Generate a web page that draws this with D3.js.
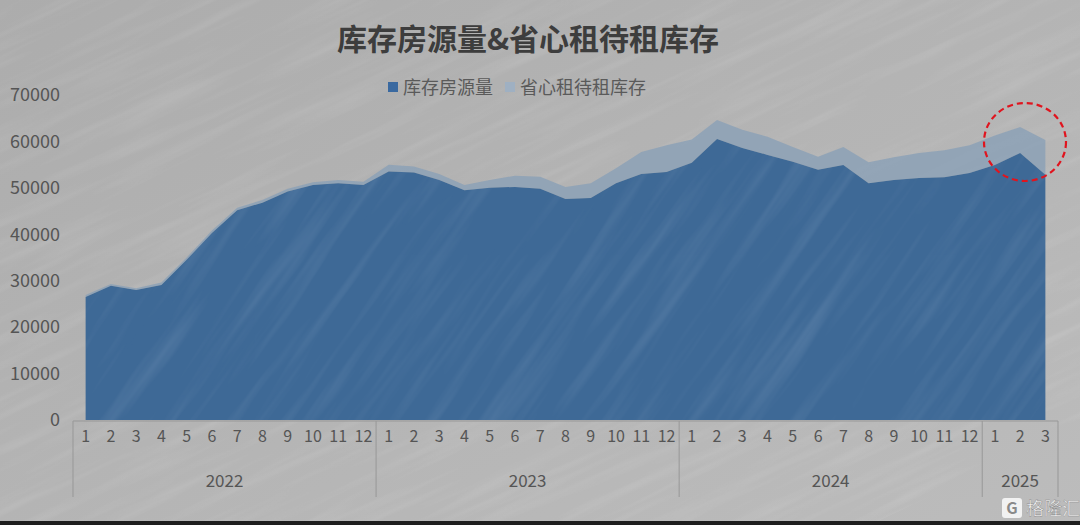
<!DOCTYPE html>
<html><head><meta charset="utf-8">
<script src="https://cdn.jsdelivr.net/npm/d3@7/dist/d3.min.js"></script>
<style>
html,body{margin:0;padding:0;background:#b3b3b3;}
svg{display:block;font-family:"Noto Sans CJK SC","Noto Sans",sans-serif;}
</style></head>
<body>
<svg id="chart" width="1080" height="525"></svg>
<script>
// ---- data ----
const title = "库存房源量&省心租待租库存";
const seriesNames = ["库存房源量", "省心租待租库存"];
const years = ["2022", "2023", "2024", "2025"];
const monthsPerYear = [12, 12, 12, 3];
const monthLabels = ["1","2","3","4","5","6","7","8","9","10","11","12",
                     "1","2","3","4","5","6","7","8","9","10","11","12",
                     "1","2","3","4","5","6","7","8","9","10","11","12",
                     "1","2","3"];
const stockValues = [26500, 28900, 28000, 29100, 34500, 40300, 45200, 46800, 49200, 50600, 51000, 50600,
                     53500, 53300, 51700, 49500, 50000, 50200, 49800, 47600, 47800, 51000, 53000, 53400,
                     55400, 60500, 58600, 57100, 55600, 53900, 54900, 51000, 51700, 52100, 52300, 53200,
                     54900, 57500, 52800];
const xinValues = [400, 400, 400, 500, 500, 500, 500, 600, 600, 600, 700, 700,
                   1500, 1300, 1300, 1100, 1700, 2400, 2600, 2600, 3200, 3200, 4700, 5800,
                   5000, 4100, 3900, 3900, 3200, 2800, 3900, 4500, 4900, 5400, 5800, 6000,
                   6400, 5600, 7500];
const yTicks = [0, 10000, 20000, 30000, 40000, 50000, 60000, 70000];

// ---- setup ----
const svg = d3.select("#chart");
const W = 1080, H = 525;
const defs = svg.append("defs");

// background
const bgGrad = defs.append("linearGradient").attr("id","bgGrad").attr("x1","0").attr("y1","0").attr("x2","1").attr("y2","1");
bgGrad.append("stop").attr("offset","0").attr("stop-color","#acacac");
bgGrad.append("stop").attr("offset","0.55").attr("stop-color","#b5b5b5");
bgGrad.append("stop").attr("offset","1").attr("stop-color","#bcbcbc");

const f = defs.append("filter").attr("id","streaks").attr("x","0").attr("y","0").attr("width","1").attr("height","1");
f.append("feTurbulence").attr("type","fractalNoise").attr("baseFrequency","0.006 0.09").attr("numOctaves","3").attr("seed","7").attr("result","n");
f.append("feColorMatrix").attr("in","n").attr("type","matrix")
  .attr("values","0 0 0 0 1  0 0 0 0 1  0 0 0 0 1  0 0 0 1.4 -0.65");

svg.append("rect").attr("width",W).attr("height",H).attr("fill","url(#bgGrad)");
svg.append("rect").attr("width",W*1.6).attr("height",H*1.6).attr("x",-300).attr("y",-200)
  .attr("filter","url(#streaks)").attr("opacity",0.16)
  .attr("transform","rotate(-25 540 262)");

// ---- scales ----
const n = monthLabels.length;
const x = d3.scaleBand().domain(d3.range(n)).range([73, 1058]);
const cx = i => x(i) + x.bandwidth()/2;
const y = d3.scaleLinear().domain([0, 70000]).range([420, 95]);

const table = d3.range(n).map(i => ({i, stock: stockValues[i], xin: xinValues[i]}));
const stack = d3.stack().keys(["stock","xin"]);
const layers = stack(table);
const area = d3.area().x(d => cx(d.data.i)).y0(d => y(d[0])).y1(d => y(d[1]));

const colors = ["#3e6996", "#8ca1b6"];
const g = svg.append("g");
g.append("path").datum(layers[1]).attr("d", area).attr("fill", colors[1]).attr("opacity",0.85);
g.append("path").datum(layers[0]).attr("d", area).attr("fill", colors[0]);

// subtle texture on dark area
const clip = defs.append("clipPath").attr("id","darkClip");
clip.append("path").datum(layers[0]).attr("d", area);
const f2 = defs.append("filter").attr("id","streaks2").attr("x","0").attr("y","0").attr("width","1").attr("height","1");
f2.append("feTurbulence").attr("type","fractalNoise").attr("baseFrequency","0.005 0.07").attr("numOctaves","3").attr("seed","3").attr("result","n");
f2.append("feColorMatrix").attr("in","n").attr("type","matrix")
  .attr("values","0 0 0 0 0.85  0 0 0 0 0.9  0 0 0 0 1  0 0 0 1.5 -0.7");
g.append("g").attr("clip-path","url(#darkClip)")
  .append("rect").attr("x",-300).attr("y",-200).attr("width",W*1.6).attr("height",H*1.6)
  .attr("filter","url(#streaks2)").attr("opacity",0.14)
  .attr("transform","rotate(-55 700 300)");

// ---- y axis ----
const yAxis = svg.append("g").attr("transform","translate(60,0)")
  .call(d3.axisLeft(y).tickValues(yTicks).tickSize(0).tickPadding(0).tickFormat(d3.format("d")));
yAxis.select(".domain").remove();
yAxis.selectAll("text").attr("font-size",18).attr("fill","#555").attr("font-family","'Noto Sans CJK SC',sans-serif");

// ---- x axis ----
const axisColor = "#979797";
svg.append("line").attr("x1",73).attr("x2",1058).attr("y1",421).attr("y2",421).attr("stroke",axisColor).attr("stroke-width",1);
const monthAxis = svg.append("g").attr("transform","translate(0,421)")
  .call(d3.axisBottom(x).tickSize(0).tickPadding(10).tickFormat(i => monthLabels[i]));
monthAxis.select(".domain").remove();
monthAxis.selectAll("text").attr("font-size",16).attr("fill","#555").attr("font-family","'Noto Sans CJK SC',sans-serif");

let start = 0;
const bounds = [0];
monthsPerYear.forEach(c => { start += c; bounds.push(start); });
const xEdge = k => k < n ? x(k) : x(n-1) + x.bandwidth();
svg.selectAll(".sep").data(bounds).join("line").attr("class","sep")
  .attr("x1", k => xEdge(k)).attr("x2", k => xEdge(k))
  .attr("y1", 421).attr("y2", 497).attr("stroke", axisColor).attr("stroke-width",1);
svg.selectAll(".yr").data(years).join("text").attr("class","yr")
  .attr("x", (d,j) => (xEdge(bounds[j]) + xEdge(bounds[j+1]))/2)
  .attr("y", 487).attr("text-anchor","middle").attr("font-size",17).attr("fill","#555")
  .text(d => d);

// ---- title ----
svg.append("text").attr("x",528).attr("y",50).attr("text-anchor","middle")
  .attr("font-size",30).attr("font-weight","bold").attr("fill","#3d3d3d").text(title);

// ---- legend ----
const legend = svg.append("g");
const legendItems = [{name: seriesNames[0], c: "#3a69a0", x: 388}, {name: seriesNames[1], c: "#9fb0c2", x: 505}];
legendItems.forEach(it => {
  legend.append("rect").attr("x", it.x).attr("y", 82).attr("width", 10).attr("height", 10).attr("fill", it.c);
  legend.append("text").attr("x", it.x + 15).attr("y", 94).attr("font-size", 18).attr("fill","#5a5a5a").text(it.name);
});

// ---- highlight circle ----
svg.append("ellipse").attr("cx", 1025).attr("cy", 142).attr("rx", 41).attr("ry", 39)
  .attr("fill","none").attr("stroke","#e0141e").attr("stroke-width",2.2).attr("stroke-dasharray","6,4");

// ---- watermark ----
const wm = svg.append("g").attr("transform","translate(1002,496)");
wm.append("rect").attr("x",0).attr("y",2).attr("width",20).attr("height",20).attr("rx",3).attr("fill","#f2f2f2");
wm.append("text").attr("x",10).attr("y",18).attr("text-anchor","middle").attr("font-size",16).attr("font-weight","bold").attr("fill","#8a8a8a").text("G");
wm.append("text").attr("x",24).attr("y",19).attr("font-size",18).attr("fill","#f4f4f4").attr("stroke","#888").attr("stroke-width",0.4).text("格隆汇");

// bottom dark strip
svg.append("rect").attr("x",0).attr("y",521).attr("width",W).attr("height",4).attr("fill","#1e1e1e");
</script>
</body></html>
